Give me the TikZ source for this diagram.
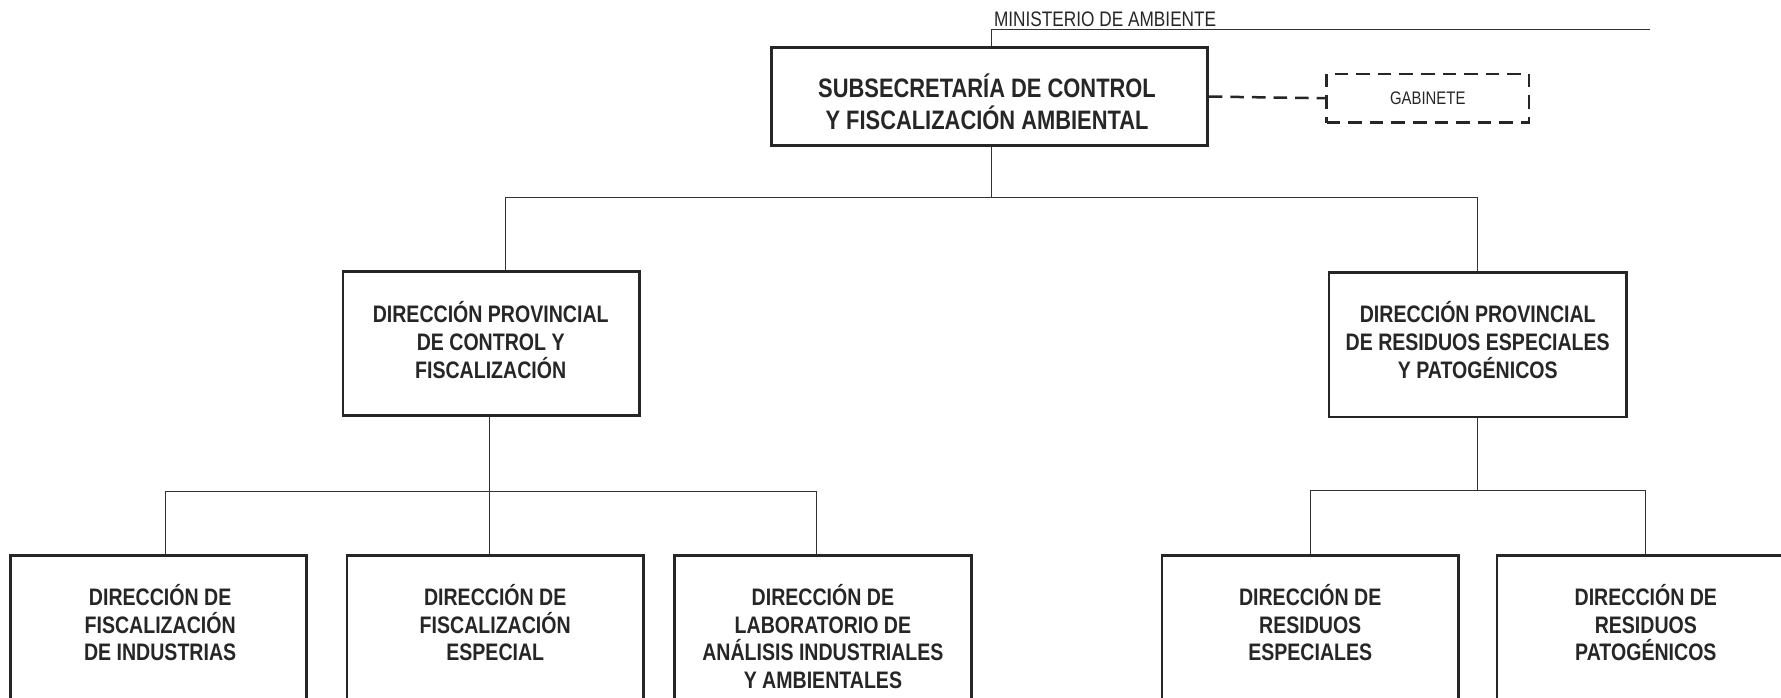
\documentclass[tikz,border=0pt]{standalone}
\usepackage{fontspec}
\setmainfont{Liberation Sans}
\newfontfamily\narrowfont[FakeStretch=0.82]{Liberation Sans}
\begin{document}
\begin{tikzpicture}[x=1pt,y=-1pt,
  box/.style={draw=black!85,line width=2.4pt,minimum width=261pt,minimum height=127pt,inner sep=0pt},
  boxtext/.style={align=center,inner sep=0pt,font=\narrowfont\bfseries\fontsize{21}{24.5}\selectfont,text=black!85},
  lowbox/.style={draw=black!85,line width=2.4pt,minimum width=261pt,minimum height=170pt,inner sep=0pt},
  lowtext/.style={anchor=north,align=center,font=\narrowfont\bfseries\fontsize{21}{24.5}\selectfont,text=black!85,inner sep=0pt},
  conn/.style={draw=black!80,line width=0.9pt},
  dconn/.style={draw=black!85,line width=2.2pt,dash pattern=on 12pt off 7pt}]
\useasboundingbox (0,0) rectangle (1568,614);
\clip (0,0) rectangle (1568,614);
% top
\node[anchor=base west,inner sep=0pt,font=\narrowfont\fontsize{18.5}{20}\selectfont,text=black!85] (min) at (875,23) {MINISTERIO DE AMBIENTE};
\node[box,minimum width=384pt,minimum height=86pt] (sub) at (871,85) {};
\node[boxtext,font=\narrowfont\bfseries\fontsize{23.5}{28.5}\selectfont] (subt) at (869,89.5) {SUBSECRETARÍA DE CONTROL\\Y FISCALIZACIÓN AMBIENTAL};
\node[draw=black!85,line width=2.2pt,dash pattern=on 12pt off 7pt,minimum width=178pt,minimum height=43pt,inner sep=0pt,font=\narrowfont\fontsize{16}{18}\selectfont,text=black!85] (gab) at (1257,86.5) {GABINETE};
\coordinate (mtop) at (873,26);
\coordinate (mend) at (1453,26);
\draw[conn] (sub.north -| mtop) -- (mtop) -- (mend);
\draw[dconn] (sub.east) -- (gab.west);
% level 2
\node[box] (dpc) at (432.5,302.5) {};
\node[boxtext] (dpct) at (432,299.5) {DIRECCIÓN PROVINCIAL\\DE CONTROL Y\\FISCALIZACIÓN};
\node[box,minimum width=262pt] (dpr) at (1301,303.5) {};
\node[boxtext] (dprt) at (1301,299.5) {DIRECCIÓN PROVINCIAL\\DE RESIDUOS ESPECIALES\\Y PATOGÉNICOS};
\coordinate (bus1) at (873,174);
\draw[conn] (sub.south -| bus1) -- (bus1);
\draw[conn] (dpc.north -| 445,0) |- (bus1) -| (dpr.north);
% level 3
\node[lowbox] (b1) at (139.5,574) {};
\node[lowbox] (b2) at (436,574) {};
\node[lowbox] (b3) at (724.5,574) {};
\node[lowbox] (b4) at (1153.5,574) {};
\node[lowbox] (b5) at (1448.5,574) {};
\node[lowtext] (t1) at (141,514) {DIRECCIÓN DE\\FISCALIZACIÓN\\DE INDUSTRIAS};
\node[lowtext] (t2) at (436,514) {DIRECCIÓN DE\\FISCALIZACIÓN\\ESPECIAL};
\node[lowtext] (t3) at (724.5,514) {DIRECCIÓN DE\\LABORATORIO DE\\ANÁLISIS INDUSTRIALES\\Y AMBIENTALES};
\node[lowtext] (t4) at (1153.5,514) {DIRECCIÓN DE\\RESIDUOS\\ESPECIALES};
\node[lowtext] (t5) at (1449,514) {DIRECCIÓN DE\\RESIDUOS\\PATOGÉNICOS};
\coordinate (j1) at (146,433);
\coordinate (j2) at (431,433);
\coordinate (j3) at (719,433);
\coordinate (j4) at (1154,432);
\coordinate (j5) at (1301,432);
\coordinate (j6) at (1449,432);
\draw[conn] (dpc.south -| j2) -- (j2);
\draw[conn] (j1 |- b1.north) -- (j1) -- (j3) -- (j3 |- b3.north);
\draw[conn] (j2) -- (j2 |- b2.north);
\draw[conn] (dpr.south) -- (j5);
\draw[conn] (j4 |- b4.north) -- (j4) -- (j6) -- (j6 |- b5.north);
\end{tikzpicture}
\end{document}
